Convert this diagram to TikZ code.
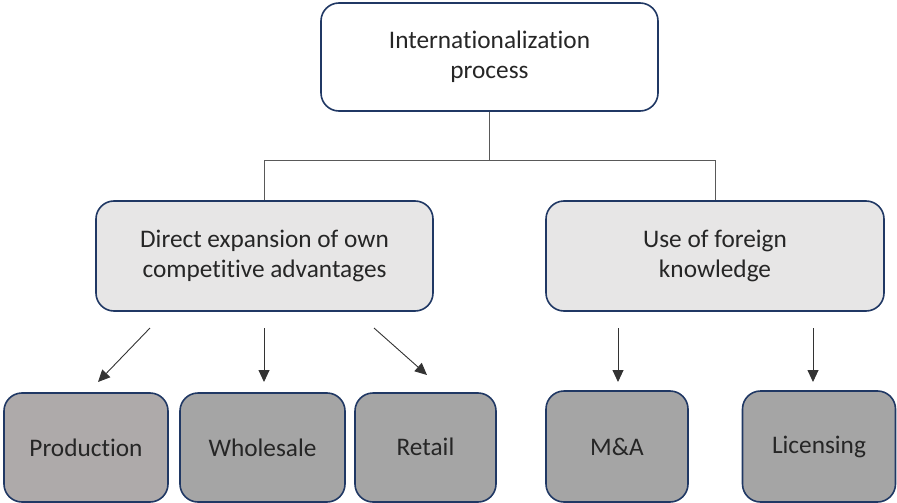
\documentclass[tikz,border=0pt]{standalone}
\usepackage{fontspec}
\setmainfont[Ligatures={NoCommon,NoContextual}]{Carlito}
\usetikzlibrary{arrows.meta}
\definecolor{navy}{HTML}{203864}
\definecolor{midfill}{HTML}{E7E6E6}
\definecolor{prodfill}{HTML}{AEAAAA}
\definecolor{botfill}{HTML}{A5A5A5}
\definecolor{linkgray}{HTML}{595959}
\tikzset{
  box/.style={draw=navy, line width=1.6pt, rounded corners=18pt, align=center, inner sep=0pt,
              font=\fontsize{25.3}{29.5}\selectfont, text=black!85},
  link/.style={draw=linkgray, line width=0.9pt},
  arr/.style={draw=black!80, line width=0.9pt, -{Triangle[length=12pt,width=11pt]}}
}
\begin{document}
\begin{tikzpicture}[x=1pt,y=-1pt]
\useasboundingbox (0,0) rectangle (897,503);
\node[box, fill=white, minimum width=337pt, minimum height=108pt] (top) at (489.5,57) {\raisebox{-2pt}{Internationalization}\\\raisebox{-2pt}{process}};
\node[box, fill=midfill, minimum width=337pt, minimum height=110pt] (left) at (264.5,256) {\raisebox{-1pt}{Direct expansion of own}\\\raisebox{-1pt}{competitive advantages}};
\node[box, fill=midfill, minimum width=338pt, minimum height=110pt] (right) at (715,256) {\raisebox{-1pt}{Use of foreign}\\\raisebox{-1pt}{knowledge}};
\node[box, fill=prodfill, minimum width=164pt, minimum height=109pt] (prod) at (86,447.5) {\raisebox{-5pt}{Production}};
\node[box, fill=botfill, minimum width=165pt, minimum height=109pt] (whole) at (262.5,447.5) {\raisebox{-5pt}{Wholesale}};
\node[box, fill=botfill, minimum width=141pt, minimum height=109pt] (retail) at (425.5,447.5) {\raisebox{1pt}{Retail}};
\node[box, fill=botfill, minimum width=142pt, minimum height=111pt] (ma) at (617,446.5) {M\&A};
\node[box, fill=botfill, minimum width=153pt, minimum height=111pt] (lic) at (819,446.5) {Licensing};
\coordinate (j) at (489.5,160);
\draw[link] (top.south) -- (j) -| (left.north);
\draw[link] (j) -| (right.north);
\coordinate (s1) at (150,328); \coordinate (e1) at (98,382);
\coordinate (s2) at (264,328); \coordinate (e2) at (264,382);
\coordinate (s3) at (374,328); \coordinate (e3) at (427,375);
\coordinate (s4) at (618,328); \coordinate (e4) at (618,382);
\coordinate (s5) at (813,328); \coordinate (e5) at (813,382);
\draw[arr] (s1) -- (e1);
\draw[arr] (s2) -- (e2);
\draw[arr] (s3) -- (e3);
\draw[arr] (s4) -- (e4);
\draw[arr] (s5) -- (e5);
\end{tikzpicture}
\end{document}
